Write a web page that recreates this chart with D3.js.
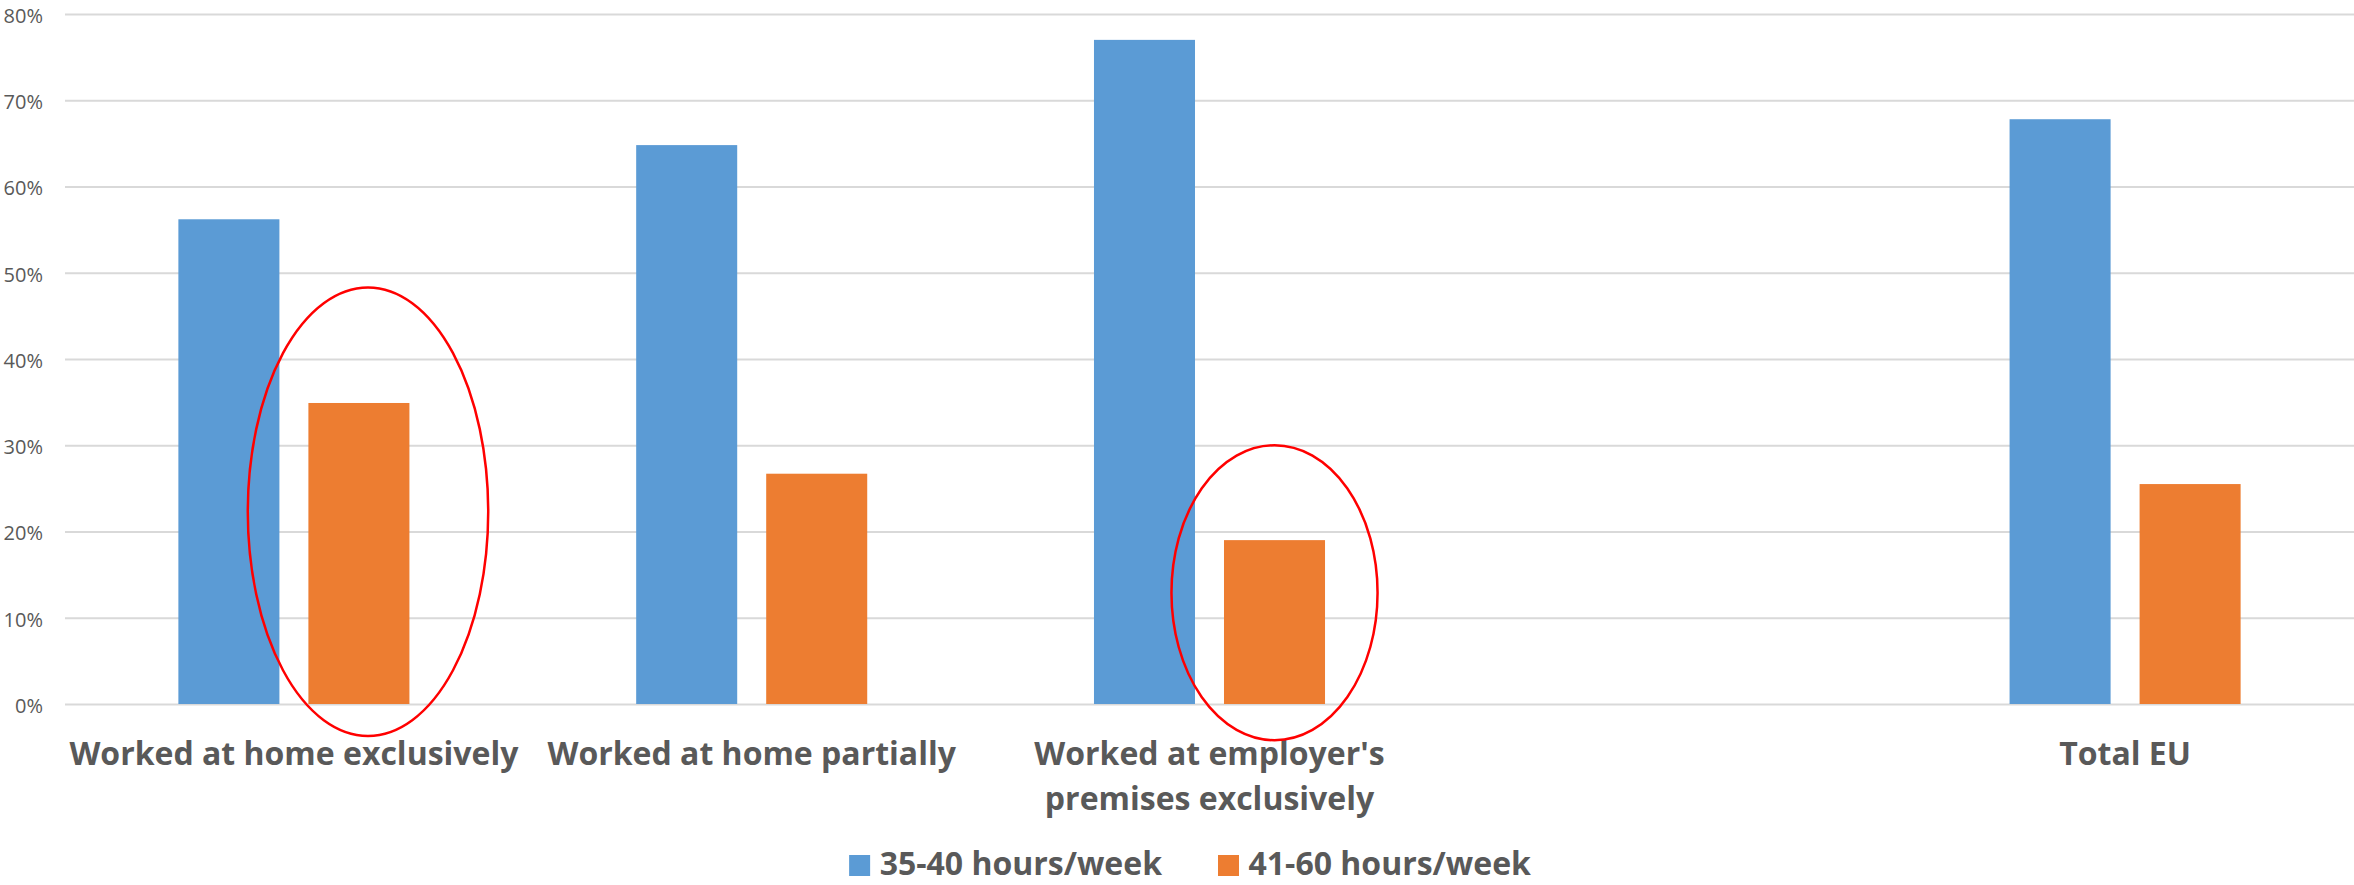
<!DOCTYPE html>
<html>
<head>
<meta charset="utf-8">
<script src="https://cdn.jsdelivr.net/npm/d3@7"></script>
<style>
  html, body { margin: 0; padding: 0; background: #fff; }
  svg { display: block; }
</style>
</head>
<body>
<div id="chart"></div>
<script>
// Chart data
const categories = ["Worked at home exclusively", "Worked at home partially",
    "Worked at employer's premises exclusively", "", "Total EU"];
const seriesNames = ["35-40 hours/week", "41-60 hours/week"];
const hours35to40 = [0.562, 0.648, 0.770, null, 0.678];
const hours41to60 = [0.349, 0.267, 0.190, null, 0.255];
const yTicks = [0, 0.1, 0.2, 0.3, 0.4, 0.5, 0.6, 0.7, 0.8];

// Red circled annotations: which bar, and vertical extent in data units
const highlights = [
    { category: 0, series: 1, top: 0.483, bottom: -0.037, spread: 1.19, shift: 0.09 },
    { category: 2, series: 1, top: 0.300, bottom: -0.042, spread: 1.02, shift: 0 }
];

const colors = ["#5B9BD5", "#ED7D31"];
const textColor = "#595959";
const fontFamily = "'Open Sans', sans-serif";

const width = 2354;
const height = 885;
const margin = { top: 14, right: 0, bottom: 181, left: 65 };

const svg = d3.select('#chart')
    .append('svg')
    .attr('width', width)
    .attr('height', height);

const x = d3.scaleBand()
    .domain(categories)
    .range([margin.left, width - margin.right])
    .paddingInner(0)
    .paddingOuter(0);

const xInner = d3.scaleBand()
    .domain(seriesNames)
    .range([0, x.bandwidth()])
    .paddingInner(0.223)
    .paddingOuter(0.872);

const y = d3.scaleLinear()
    .domain([0, 0.8])
    .range([height - margin.bottom, margin.top]);

// Gridlines + y labels
const yAxis = d3.axisLeft(y)
    .tickValues(yTicks)
    .tickFormat(d3.format('.0%'))
    .tickSize(-(width - margin.left - margin.right))
    .tickPadding(22);

const gy = svg.append('g')
    .attr('transform', `translate(${margin.left},0)`)
    .call(yAxis);
gy.select('.domain').remove();
gy.selectAll('.tick line')
    .attr('stroke', '#d9d9d9')
    .attr('stroke-width', 2);
gy.selectAll('.tick text')
    .attr('fill', textColor)
    .attr('dy', '0.42em')
    .style('font-family', fontFamily)
    .style('font-size', '20px');

// Bars
const rows = categories.map((c, i) => ({
    category: c,
    values: [hours35to40[i], hours41to60[i]]
}));

const groups = svg.append('g')
    .selectAll('g')
    .data(rows.filter(r => r.category !== ''))
    .join('g')
    .attr('transform', d => `translate(${x(d.category)},0)`);

groups.selectAll('rect')
    .data(d => d.values.map((v, i) => ({ series: seriesNames[i], value: v, idx: i })))
    .join('rect')
    .attr('x', d => xInner(d.series))
    .attr('y', d => y(d.value))
    .attr('width', xInner.bandwidth())
    .attr('height', d => y(0) - y(d.value))
    .attr('fill', d => colors[d.idx]);

// Category labels (wrapped to the band width)
const labelSize = 32;
const lineHeight = 45;
const firstBaseline = 765;

categories.forEach(cat => {
    if (!cat) return;
    const cx = x(cat) + x.bandwidth() / 2;
    const text = svg.append('text')
        .attr('text-anchor', 'middle')
        .attr('fill', textColor)
        .style('font-family', fontFamily)
        .style('font-size', labelSize + 'px')
        .style('font-weight', 'bold');
    const words = cat.split(' ');
    let line = [];
    let lineNo = 0;
    let tspan = text.append('tspan').attr('x', cx).attr('y', firstBaseline);
    words.forEach(w => {
        line.push(w);
        tspan.text(line.join(' '));
        if (tspan.node().getComputedTextLength() > x.bandwidth() && line.length > 1) {
            line.pop();
            tspan.text(line.join(' '));
            line = [w];
            lineNo++;
            tspan = text.append('tspan')
                .attr('x', cx)
                .attr('y', firstBaseline + lineNo * lineHeight)
                .text(w);
        }
    });
});

// Annotation ellipses
highlights.forEach(h => {
    const bw = xInner.bandwidth();
    const cx = x(categories[h.category]) + xInner(seriesNames[h.series]) + bw / 2 + h.shift * bw;
    const yTop = y(h.top);
    const yBottom = y(h.bottom);
    svg.append('ellipse')
        .attr('cx', cx)
        .attr('cy', (yTop + yBottom) / 2)
        .attr('rx', bw * h.spread)
        .attr('ry', (yBottom - yTop) / 2)
        .attr('fill', 'none')
        .attr('stroke', '#ff0000')
        .attr('stroke-width', 2.5);
});

// Legend
const legend = svg.append('g');
const swatch = 21;
const swatchGap = 9.5;
const itemGap = 56;
const legendBaseline = 875;
let lx = 0;
seriesNames.forEach((name, i) => {
    legend.append('rect')
        .attr('x', lx)
        .attr('y', legendBaseline - swatch + 1)
        .attr('width', swatch)
        .attr('height', swatch)
        .attr('fill', colors[i]);
    const t = legend.append('text')
        .attr('x', lx + swatch + swatchGap)
        .attr('y', legendBaseline)
        .attr('fill', textColor)
        .style('font-family', fontFamily)
        .style('font-size', labelSize + 'px')
        .style('font-weight', 'bold')
        .text(name);
    lx += swatch + swatchGap + t.node().getComputedTextLength() + itemGap;
});
const legendWidth = lx - itemGap;
legend.attr('transform', `translate(${1190 - legendWidth / 2},0)`);
</script>
</body>
</html>
